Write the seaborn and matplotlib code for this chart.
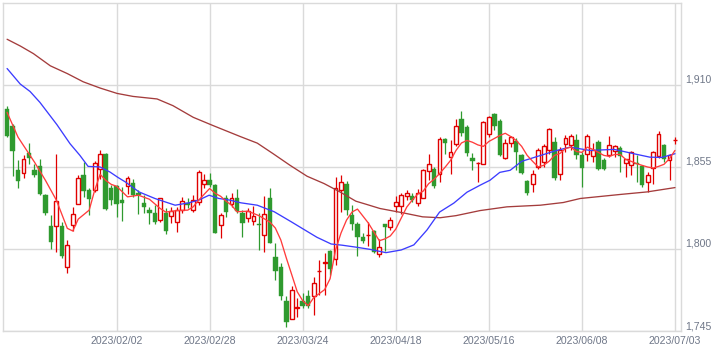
import numpy as np
import pandas as pd
import matplotlib
matplotlib.use('Agg')
import matplotlib.pyplot as plt
import seaborn as sns

# daily candles (trading-day index 0..122, 2023/01/04 - 2023/07/03)
opens = [1894, 1882.7, 1852.7, 1851.1, 1864.2, 1852.7, 1855.3, 1836, 1815.3, 1815.6,
         1815.3, 1787.8, 1815.8, 1830.4, 1849.3, 1839.8, 1839.3, 1853.3, 1863.8, 1840.9,
         1842, 1832.7, 1842, 1844.2, 1837.5, 1830.9, 1826.4, 1824.2, 1819.1, 1824.2,
         1822, 1818.2, 1826.4, 1830.9, 1826.4, 1831.6, 1843.8, 1846, 1842.7, 1815.8,
         1834, 1829.8, 1834.4, 1823.8, 1820.4, 1818.9, 1816.7, 1809.1, 1833.8, 1794.5,
         1788.2, 1765.3, 1753.1, 1760.4, 1764.9, 1768.2, 1768.2, 1784.9, 1790.5, 1798.7,
         1793.1, 1839.8, 1843.3, 1822.7, 1816.7, 1807.8, 1809, 1812, 1796.7, 1816.7,
         1814.5, 1828.7, 1828.7, 1835.3, 1835.3, 1830.9, 1834.4, 1852.2, 1853.8, 1850.4,
         1873.8, 1861.6, 1870.5, 1887.1, 1882, 1861.1, 1857.3, 1857.1, 1877.1, 1890.4,
         1886, 1861.1, 1870.9, 1872.2, 1862.7, 1845.5, 1843.3, 1854.9, 1858.2, 1866,
         1871.6, 1850.4, 1870.5, 1869.8, 1872.7, 1863.1, 1863.8, 1862, 1871.6, 1859.3,
         1863.1, 1865.3, 1867.6, 1857.8, 1856, 1857.8, 1855.5, 1844.9, 1854.2, 1862.2,
         1869.8, 1859.3, 1872.7]
highs = [1896, 1884, 1859.3, 1862.7, 1871.1, 1856.7, 1860.4, 1837, 1822.7, 1863.8,
         1818.2, 1806, 1828.2, 1849.3, 1858.2, 1841.1, 1858.9, 1866, 1864, 1842.7,
         1843, 1841.5, 1848.7, 1847.1, 1839.3, 1836, 1827.8, 1829.3, 1834, 1827.1,
         1828.2, 1828.2, 1834.9, 1833.8, 1836, 1853.1, 1850.4, 1850.9, 1843.8, 1824.2,
         1836, 1837.6, 1840.4, 1826, 1827.1, 1828.7, 1823.8, 1835.3, 1841.1, 1803.8,
         1790.5, 1768.2, 1775.3, 1767.1, 1770.4, 1772.7, 1781.5, 1792.7, 1797.5, 1799.3,
         1848.2, 1849.3, 1845.6, 1829.3, 1818, 1810.9, 1818.2, 1813, 1806.4, 1817,
         1821.5, 1835.3, 1837.6, 1839.8, 1837.6, 1840.4, 1853.8, 1863.8, 1855, 1875.3,
         1874.5, 1873.1, 1887.1, 1892.7, 1883.3, 1864.2, 1858.2, 1886, 1889.3, 1891.3,
         1887.3, 1873.8, 1876, 1874, 1863.8, 1846, 1852.7, 1867.3, 1870.5, 1881.3,
         1874.9, 1868.2, 1876.5, 1877.1, 1877.1, 1864.7, 1877.1, 1871, 1872.7, 1860.7,
         1876, 1869.8, 1868.7, 1860.4, 1865.3, 1863.1, 1856.5, 1851.5, 1865.3, 1878.7,
         1870.5, 1863.8, 1874.9]
lows = [1875, 1848.7, 1841.1, 1847.8, 1857.1, 1848.2, 1836, 1822.7, 1799.8, 1798.2,
        1794.2, 1783.8, 1812, 1830, 1835, 1822.7, 1838.2, 1846.7, 1826, 1829.3,
        1821.1, 1818.7, 1837.1, 1834.9, 1823.3, 1824.2, 1816.7, 1816.7, 1818.2, 1810,
        1817.5, 1811.5, 1823.8, 1827.1, 1824.9, 1829.3, 1841.1, 1841.5, 1810.4, 1807.1,
        1821.5, 1828.2, 1823.8, 1807.8, 1818.2, 1816, 1799.3, 1798.2, 1803.8, 1778.9,
        1766, 1747.8, 1753.1, 1754.2, 1760.4, 1760.4, 1755.8, 1769.3, 1769.3, 1782.7,
        1789.3, 1825, 1823, 1812.7, 1795.3, 1804.2, 1802, 1797.1, 1794.5, 1798.9,
        1812.7, 1824.9, 1823.3, 1832.7, 1831.6, 1828.7, 1833.8, 1846, 1841.1, 1844.9,
        1863.8, 1850, 1868.7, 1876, 1862, 1853.1, 1844.9, 1856.7, 1874.9, 1879.8,
        1862, 1860.4, 1868.2, 1852.7, 1850, 1836, 1838.2, 1853.8, 1854.9, 1863.8,
        1846.4, 1846, 1864.9, 1866, 1860.4, 1841.5, 1858.7, 1858, 1852.7, 1852.7,
        1861.6, 1861.6, 1851.5, 1848.2, 1849.3, 1844.9, 1841.5, 1838.2, 1843.8, 1861,
        1858.2, 1846, 1870.5]
closes = [1875.5, 1865.6, 1845.6, 1860.4, 1861.1, 1849.6, 1836.7, 1824.2, 1804.9, 1832,
          1795.3, 1802.5, 1823.1, 1847.8, 1838.9, 1833.3, 1857.8, 1863.8, 1826.7, 1833.1,
          1830, 1830.9, 1847.8, 1836, 1836, 1828.2, 1824.2, 1818.2, 1833.8, 1812.2,
          1825.6, 1826, 1832.2, 1829.3, 1833.1, 1851.6, 1846.4, 1842.7, 1811, 1822.7,
          1825, 1834.4, 1825.3, 1817.1, 1825.6, 1822, 1815.8, 1823.1, 1804.2, 1785.5,
          1768.2, 1750.9, 1772.4, 1760.9, 1761.6, 1762, 1777.5, 1785.2, 1791, 1786.5,
          1841.1, 1844.9, 1826, 1816.7, 1807.8, 1805.5, 1809.5, 1798.2, 1801.1, 1814.5,
          1819.3, 1831.6, 1836, 1837.6, 1833.1, 1837.6, 1853.1, 1856.7, 1842, 1873.8,
          1870.9, 1864.9, 1882.2, 1877.5, 1864.2, 1858.9, 1857.8, 1884.9, 1888.7, 1882.7,
          1862.7, 1870.9, 1874.9, 1864.9, 1850.9, 1837.3, 1850, 1866, 1869.3, 1880.5,
          1847.8, 1866.5, 1874.2, 1875.5, 1863.1, 1854.2, 1875.5, 1866, 1853.8, 1853.8,
          1869.8, 1868.9, 1862.2, 1860, 1864.9, 1856.9, 1843.1, 1849.8, 1864.9, 1877.1,
          1860.4, 1862.7, 1873.3]

# moving averages (index, value)
ma_short_idx = [0, 2, 3, 5, 7, 9, 11, 12, 13, 15, 16, 17, 18, 19, 20, 22, 24, 26, 28, 29,
                31, 33, 34, 35, 37, 38, 39, 40, 41, 42, 44, 46, 48, 49, 50, 51, 52, 53, 54, 55,
                56, 57, 58, 59, 60, 61, 62, 63, 64, 65, 66, 67, 68, 69, 70, 71, 72, 73, 74, 75,
                76, 77, 78, 79, 80, 81, 82, 83, 84, 85, 86, 87, 88, 89, 90, 91, 92, 93, 94, 95,
                96, 97, 98, 99, 100, 101, 102, 103, 104, 105, 106, 107, 108, 109, 110, 111, 112,
                113, 114, 115, 116, 117, 118, 119, 120, 121, 122]
ma_short = [1891.5, 1874.9, 1869.3, 1858.2, 1846, 1832.7, 1813.8, 1812, 1820, 1826, 1839.3,
            1850, 1846, 1843.3, 1842, 1834.9, 1836, 1833.3, 1827, 1824.7, 1825.7, 1826, 1828.2,
            1832.7, 1840.5, 1837.3, 1835.3, 1832, 1829.3, 1824.9, 1825.3, 1822.3, 1818, 1814,
            1806, 1794, 1782.7, 1771.3, 1765.3, 1762, 1767.3, 1770, 1772.7, 1780, 1799.3,
            1810.7, 1819.3, 1824.7, 1826.7, 1822, 1817.3, 1811.3, 1805.5, 1806.7, 1808.7,
            1813.3, 1820.7, 1828, 1832.7, 1836.7, 1838.7, 1843.7, 1846.7, 1850.5, 1854.7,
            1859.3, 1866, 1871, 1872.7, 1871.5, 1869.7, 1868.7, 1872, 1874, 1876, 1877.5,
            1875.3, 1872.7, 1868.7, 1862.7, 1858.7, 1855, 1856, 1858.7, 1862.7, 1864, 1867.3,
            1868.2, 1865.3, 1864.7, 1868.2, 1866.7, 1864.7, 1862.7, 1862, 1863.3, 1863.3,
            1860, 1858.7, 1857.1, 1856, 1854.9, 1854.2, 1855.3, 1856.7, 1860.5, 1866]

ma_mid_idx = [0, 2.4, 4.2, 6, 9.1, 11.5, 13.3, 14.8, 17, 18.8, 20.3, 21.6, 24.1, 27, 30.7,
              33.2, 35, 36.9, 38.7, 40.7, 42.7, 45.7, 48.8, 51.9, 54.2, 56.6, 59.2, 61.2,
              63.9, 66.3, 69.2, 72, 74.3, 76.7, 79, 81.6, 84, 86.4, 88.2, 90, 91.9, 94,
              97.5, 100.4, 102.8, 106.5, 110.9, 115.1, 117.4, 119.6, 122]
ma_mid = [1920.9, 1910.5, 1905.5, 1898.2, 1883.3, 1870.5, 1862.7, 1855.3, 1854.9, 1851.5,
          1847.8, 1844.9, 1838.2, 1833.8, 1829.3, 1830.9, 1832.7, 1836, 1833.8, 1832.7,
          1830.9, 1829.3, 1824.9, 1818.2, 1813.1, 1807.8, 1803.3, 1802.5, 1801.1, 1799.7,
          1797.5, 1799.3, 1802.7, 1812.7, 1824.7, 1830.7, 1838, 1842.7, 1846, 1851.3,
          1852.7, 1858.7, 1862.7, 1866, 1868.2, 1866, 1866.7, 1863.3, 1861.5, 1861.3, 1863.8]

ma_long_idx = [0, 2.4, 4.8, 7.9, 11, 13.9, 17, 20.1, 23, 27.4, 30.3, 34, 37.6, 42.6, 45.7,
               48.6, 51.7, 54.8, 57.9, 60.8, 63.7, 65.7, 68.1, 72.3, 75.9, 79.1, 82, 86.4,
               91.3, 97.4, 101.6, 104.7, 112, 116.9, 122]
ma_long = [1940.5, 1936, 1930.9, 1922.7, 1917.5, 1912, 1907.8, 1904.2, 1902.2, 1900.5,
           1896, 1888.2, 1882.7, 1875.3, 1870.9, 1863.8, 1856, 1848.7, 1843.8, 1838.2,
           1832, 1829.8, 1827.1, 1824.2, 1821.5, 1820.9, 1822.3, 1825.7, 1828.2, 1829.3,
           1831.1, 1833.8, 1836.5, 1838.2, 1841.1]

tick_idx = [20, 37, 54, 71, 88, 105, 122]
tick_labels = ['2023/02/02', '2023/02/28', '2023/03/24', '2023/04/18',
               '2023/05/16', '2023/06/08', '2023/07/03']
y_ticks = [1745, 1800, 1855, 1910]

UP = '#e00000'
DOWN = '#2f9a2f'
GRID = '#dadada'
LABEL = '#6f7788'

sns.set_theme(style='whitegrid')
plt.rcParams['font.family'] = ['Liberation Sans', 'DejaVu Sans']

df = pd.DataFrame({'o': opens, 'h': highs, 'l': lows, 'c': closes})
df['i'] = np.arange(len(df))
up = df[df['c'] >= df['o']]
dn = df[df['c'] < df['o']]

fig = plt.figure(figsize=(7.22, 3.53), dpi=100)
ax = fig.add_axes([2.7 / 722, 22 / 353, 678.3 / 722, 328.3 / 353])

w = 0.82
ax.vlines(dn['i'], dn['l'], dn['h'], color=DOWN, lw=0.9, zorder=2)
ax.bar(dn['i'], dn['o'] - dn['c'], bottom=dn['c'], width=w, color=DOWN,
       edgecolor=DOWN, lw=0.3, zorder=3)
ax.vlines(up['i'], up['l'], up['h'], color=UP, lw=0.9, zorder=2)
ax.bar(up['i'], (up['c'] - up['o']).clip(lower=0.15), bottom=up['o'], width=w - 0.12,
       facecolor='white', edgecolor=UP, lw=1.0, zorder=3)

sns.lineplot(x=ma_long_idx, y=ma_long, ax=ax, color='#a43c3c', lw=0.95, zorder=4)
sns.lineplot(x=ma_mid_idx, y=ma_mid, ax=ax, color='#3c3cff', lw=0.95, zorder=4)
sns.lineplot(x=ma_short_idx, y=ma_short, ax=ax, color='#ff3c3c', lw=0.95, zorder=5)

ax.set_xlim(-0.8, 123.1)
ax.set_ylim(1745, 1965)
ax.set_xticks(tick_idx)
ax.set_xticklabels(tick_labels)
ax.set_yticks(y_ticks)
ax.set_yticklabels([f'{v:,}' for v in y_ticks])
ax.yaxis.tick_right()
for lab in ax.get_yticklabels():
    lab.set_verticalalignment('bottom')
ax.tick_params(axis='both', length=0, labelsize=7.6, labelcolor=LABEL)
ax.tick_params(axis='x', pad=3.5)
ax.tick_params(axis='y', pad=3)
ax.grid(True, color=GRID, lw=1.0)
ax.set_axisbelow(True)
for s in ax.spines.values():
    s.set_color(GRID)
    s.set_linewidth(1.0)
ax.set_xlabel('')
ax.set_ylabel('')

fig.savefig('out.png', dpi=100)
